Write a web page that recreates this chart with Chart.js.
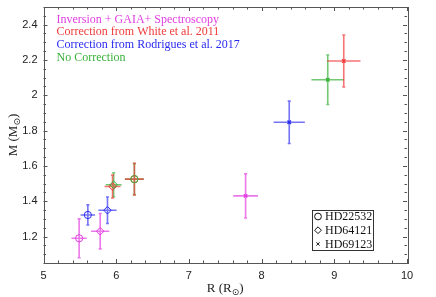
<!DOCTYPE html>
<html><head><meta charset="utf-8">
<script src="https://cdn.jsdelivr.net/npm/chart.js@4"></script>
<style>html,body{margin:0;padding:0;background:#fff;}#wrap{width:436px;height:297px;}</style>
</head><body><div id="wrap"><canvas id="c" width="436" height="297"></canvas></div>
<script>
// Stars and their marker styles
const stars = ['HD22532', 'HD64121', 'HD69123'];
const starStyles = ['circle', 'rectRot', 'crossRot'];

// Series (order per star)
const seriesNames = ['Inversion + GAIA+ Spectroscopy', 'Correction from White et al. 2011', 'Correction from Rodrigues et al. 2017', 'No Correction'];

const invR    = [5.49, 5.78, 7.78];
const invM    = [1.19, 1.23, 1.43];
const invRerr = [0.105, 0.125, 0.17];
const invMerr = [0.11, 0.10, 0.125];

const whiteR    = [6.25, 5.95, 9.13];
const whiteM    = [1.525, 1.483, 2.194];
const whiteRerr = [0.13, 0.11, 0.23];
const whiteMerr = [0.09, 0.065, 0.147];

const rodR    = [5.61, 5.88, 8.38];
const rodM    = [1.322, 1.349, 1.847];
const rodRerr = [0.10, 0.125, 0.215];
const rodMerr = [0.057, 0.075, 0.12];

const noR    = [6.25, 5.965, 8.91];
const noM    = [1.525, 1.493, 2.088];
const noRerr = [0.13, 0.11, 0.225];
const noMerr = [0.088, 0.068, 0.14];

const xTicks = [5, 6, 7, 8, 9, 10];
const yTicks = [1.2, 1.4, 1.6, 1.8, 2, 2.2, 2.4];

const colMag = '#e13ee1', colRed = '#f03a3a', colBlue = '#2a2af0', colGreen = '#38b038';
const colMagA = 'rgba(225,62,225,0.7)', colRedA = 'rgba(240,58,58,0.7)', colBlueA = 'rgba(42,42,240,0.65)', colGreenA = 'rgba(56,176,56,0.7)';

function mk(label, R, M, Re, Me, col, colA) {
  return {
    label, errColor: colA,
    data: R.map((r, i) => ({x: r, y: M[i], xe: Re[i], ye: Me[i]})),
    pointStyle: starStyles,
    pointRadius: [3.6, 3.8, 2.4],
    pointBorderWidth: [1, 1, 1.4],
    borderColor: col,
    backgroundColor: 'rgba(0,0,0,0)',
    pointHoverRadius: 0
  };
}

const datasets = [
  mk(seriesNames[3], noR, noM, noRerr, noMerr, colGreen, colGreenA),
  mk(seriesNames[1], whiteR, whiteM, whiteRerr, whiteMerr, colRed, colRedA),
  mk(seriesNames[2], rodR, rodM, rodRerr, rodMerr, colBlue, colBlueA),
  mk(seriesNames[0], invR, invM, invRerr, invMerr, colMag, colMagA)
];

const errPlugin = {
  id: 'err',
  beforeDatasetsDraw(chart) {
    const ctx = chart.ctx, xs = chart.scales.x, ys = chart.scales.y;
    chart.data.datasets.forEach(ds => {
      ctx.save();
      ctx.strokeStyle = ds.errColor;
      ctx.lineWidth = 1.6;
      ds.data.forEach(p => {
        const px = xs.getPixelForValue(p.x), py = ys.getPixelForValue(p.y);
        const x0 = xs.getPixelForValue(p.x - p.xe), x1 = xs.getPixelForValue(p.x + p.xe);
        const y0 = ys.getPixelForValue(p.y - p.ye), y1 = ys.getPixelForValue(p.y + p.ye);
        ctx.beginPath();
        ctx.moveTo(x0, py); ctx.lineTo(x1, py);
        ctx.moveTo(px, y0); ctx.lineTo(px, y1);
        ctx.moveTo(px - 1.5, y0); ctx.lineTo(px + 1.5, y0);
        ctx.moveTo(px - 1.5, y1); ctx.lineTo(px + 1.5, y1);
        ctx.stroke();
      });
      ctx.restore();
    });
  }
};

const framePlugin = {
  id: 'frame',
  afterDraw(chart) {
    const ctx = chart.ctx, a = chart.chartArea, xs = chart.scales.x, ys = chart.scales.y;
    ctx.save();
    ctx.strokeStyle = '#555';
    ctx.lineWidth = 1;
    ctx.strokeRect(Math.round(a.left) + 0.5, Math.round(a.top) + 0.5, Math.round(a.right - a.left), Math.round(a.bottom - a.top));
    ctx.beginPath();
    // x ticks: major 1, minor 0.2
    for (let v = xs.min; v <= xs.max + 1e-9; v += 0.2) {
      const isMaj = Math.abs(v - Math.round(v)) < 1e-6;
      const L = isMaj ? 4 : 2.5;
      const px = Math.round(xs.getPixelForValue(v)) + 0.5;
      ctx.moveTo(px, a.bottom); ctx.lineTo(px, a.bottom - L);
      ctx.moveTo(px, a.top); ctx.lineTo(px, a.top + L);
    }
    // y ticks: major 0.2, minor 0.05
    for (let k = Math.ceil(ys.min / 0.05 - 1e-6); k * 0.05 <= ys.max + 1e-9; k++) {
      const v = k * 0.05;
      const isMaj = k % 4 === 0;
      const L = isMaj ? 4 : 2.5;
      const py = Math.round(ys.getPixelForValue(v)) + 0.5;
      ctx.moveTo(a.left, py); ctx.lineTo(a.left + L, py);
      ctx.moveTo(a.right, py); ctx.lineTo(a.right - L, py);
    }
    ctx.stroke();

    // axis titles with subscript sun symbol
    ctx.fillStyle = '#222';
    function drawSubTitle(main, sub, cx, cy, rot) {
      ctx.save();
      ctx.translate(cx, cy);
      ctx.rotate(rot);
      const f1 = '13px "Liberation Serif", serif', f2 = '9px "DejaVu Sans", sans-serif';
      ctx.font = f1; const w1 = ctx.measureText(main).width; const w3 = ctx.measureText(')').width;
      ctx.font = f2; const w2 = ctx.measureText(sub).width;
      let x = -(w1 + w2 + w3) / 2;
      ctx.textBaseline = 'middle'; ctx.textAlign = 'left';
      ctx.font = f1; ctx.fillText(main, x, 0); x += w1;
      ctx.font = f2; ctx.fillText(sub, x, 3.5); x += w2;
      ctx.font = f1; ctx.fillText(')', x, 0);
      ctx.restore();
    }
    drawSubTitle('R (R', '\u2299', (a.left + a.right) / 2, 289, 0);
    drawSubTitle('M (M', '\u2299', 14, (a.top + a.bottom) / 2, -Math.PI / 2);

    // colored text legend
    ctx.font = '12px "Liberation Serif", serif';
    ctx.textAlign = 'left'; ctx.textBaseline = 'middle';
    const legCols = [colMag, colRed, colBlue, colGreen];
    seriesNames.forEach((n, i) => {
      ctx.fillStyle = legCols[i];
      ctx.fillText(n, a.left + 13, 19.5 + i * 12.7);
    });

    // marker legend box
    const bx = 312.5, by = 210.5, bw = 61, bh = 40;
    ctx.fillStyle = '#fff';
    ctx.fillRect(bx, by, bw, bh);
    ctx.strokeStyle = '#333'; ctx.lineWidth = 1;
    ctx.strokeRect(bx, by, bw, bh);
    ctx.font = '12px "Liberation Serif", serif';
    stars.forEach((s, i) => {
      const yy = 216.5 + i * 13.7;
      ctx.fillStyle = 'rgba(0,0,0,0)';
      ctx.strokeStyle = '#111'; ctx.lineWidth = 1;
      Chart.helpers.drawPoint(ctx, {pointStyle: starStyles[i], radius: i === 2 ? 2.3 : 3.4, borderWidth: 1}, 318, yy);
      ctx.fillStyle = '#111';
      ctx.fillText(s, 325, yy + 0.5);
    });
    ctx.restore();
  }
};

new Chart(document.getElementById('c'), {
  type: 'scatter',
  data: {datasets},
  options: {
    responsive: false,
    animation: false,
    events: [],
    layout: {padding: {top: 7, right: 29, left: 0, bottom: 0}},
    plugins: {legend: {display: false}, tooltip: {enabled: false}},
    scales: {
      x: {
        min: 5, max: 10,
        afterBuildTicks: s => { s.ticks = xTicks.map(v => ({value: v})); },
        afterFit: s => { s.height = 34; s.paddingLeft = 0; s.paddingRight = 0; },
        grid: {display: false, drawTicks: false},
        border: {display: false},
        ticks: {color: '#222', font: {family: '"Liberation Sans", sans-serif', size: 11}, padding: 6, maxRotation: 0}
      },
      y: {
        min: 1.05, max: 2.5,
        afterBuildTicks: s => { s.ticks = yTicks.map(v => ({value: v})); },
        afterFit: s => { s.width = 43.5; s.paddingTop = 0; s.paddingBottom = 0; },
        grid: {display: false, drawTicks: false},
        border: {display: false},
        ticks: {color: '#222', font: {family: '"Liberation Sans", sans-serif', size: 11}, padding: 6,
          callback: v => String(Math.round(v * 10) / 10)}
      }
    }
  },
  plugins: [errPlugin, framePlugin]
});
</script>
</body></html>
